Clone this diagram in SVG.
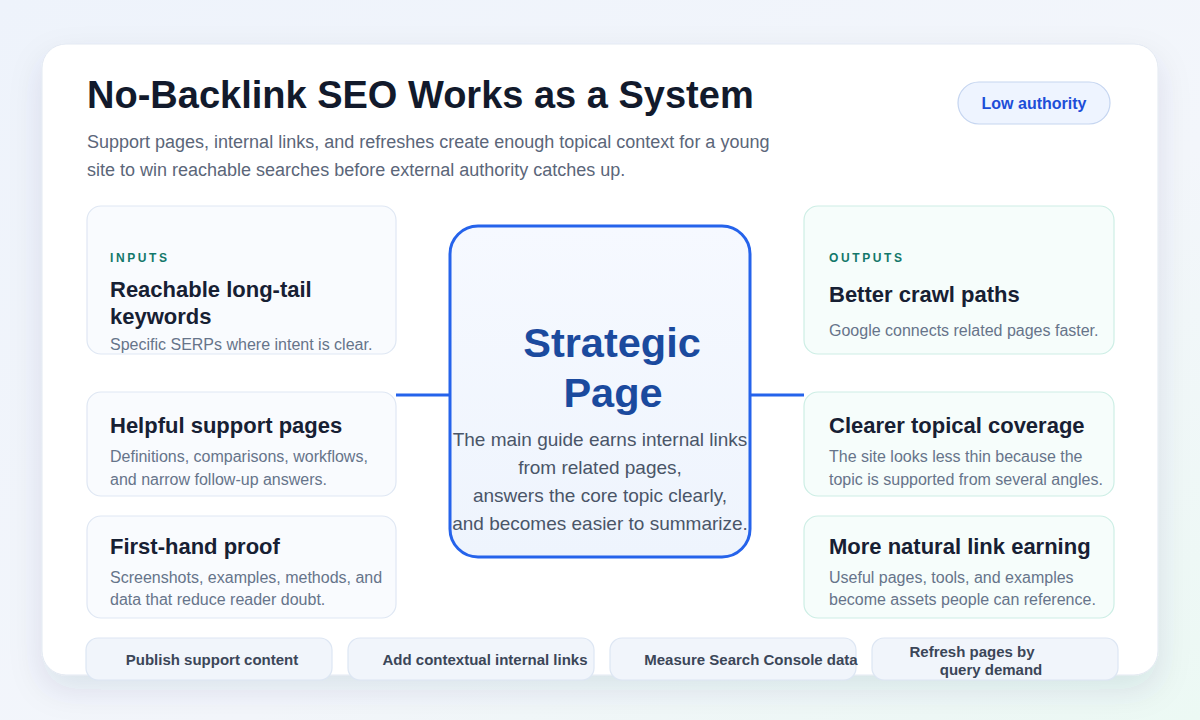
<svg xmlns="http://www.w3.org/2000/svg" width="1200" height="720" viewBox="0 0 1200 720">
<defs>
<linearGradient id="bg" x1="0" y1="0" x2="1" y2="1">
<stop offset="0" stop-color="#eef3fb"/>
<stop offset="0.6" stop-color="#f3f6fb"/>
<stop offset="1" stop-color="#ecf9f4"/>
</linearGradient>
<linearGradient id="center" x1="0" y1="0" x2="0" y2="1">
<stop offset="0" stop-color="#f6f9ff"/>
<stop offset="1" stop-color="#eef4fd"/>
</linearGradient>
<filter id="shadow" x="-10%" y="-10%" width="120%" height="130%">
<feDropShadow dx="0" dy="14" stdDeviation="16" flood-color="#1e3a5f" flood-opacity="0.10"/>
</filter>
<style>
.title{font-family:"Liberation Sans",Arial,sans-serif;font-weight:700;font-size:38px;fill:#121a2c}
.sub{font-family:"Liberation Sans",Arial,sans-serif;font-size:18px;fill:#5b6679}
.pill{fill:#eef4ff;stroke:#c5d5f0;stroke-width:1.2}
.pilltext{font-family:"Liberation Sans",Arial,sans-serif;font-weight:700;font-size:16px;fill:#1d4ed8}
.lcard{fill:#f9fbfe;stroke:#dfe7f3;stroke-width:1.2}
.rcard{fill:#f6fdfb;stroke:#cdeee5;stroke-width:1.2}
.kicker{font-family:"Liberation Sans",Arial,sans-serif;font-weight:700;font-size:12px;letter-spacing:2.6px;fill:#13786a}
.ctitle{font-family:"Liberation Sans",Arial,sans-serif;font-weight:700;font-size:22px;fill:#172033}
.cdesc{font-family:"Liberation Sans",Arial,sans-serif;font-size:16px;fill:#66748a}
.hub{fill:url(#center);stroke:#2563eb;stroke-width:3}
.hubtitle{font-family:"Liberation Sans",Arial,sans-serif;font-weight:700;font-size:41.5px;fill:#1b4a9e}
.hubdesc{font-family:"Liberation Sans",Arial,sans-serif;font-size:19px;fill:#4a5568}
.conn{stroke:#2563eb;stroke-width:3;fill:none}
.step{fill:#f1f5fb;stroke:#dde6f3;stroke-width:1.2}
.steptext{font-family:"Liberation Sans",Arial,sans-serif;font-weight:700;font-size:15px;fill:#3b4658}
</style>
</defs>
<rect width="1200" height="720" fill="url(#bg)"/>
<rect x="42" y="44" width="1116" height="631" rx="24" fill="#ffffff" stroke="#e3e9f2" stroke-width="1" filter="url(#shadow)"/>

<g id="header">
<text class="title" x="87" y="108">No-Backlink SEO Works as a System</text>
<text class="sub" x="87" y="148">Support pages, internal links, and refreshes create enough topical context for a young</text>
<text class="sub" x="87" y="176">site to win reachable searches before external authority catches up.</text>
</g>

<g id="badge-low-authority">
<rect class="pill" x="958" y="82" width="152" height="42" rx="21"/>
<text class="pilltext" x="1034" y="109" text-anchor="middle">Low authority</text>
</g>

<g id="connectors">
<line class="conn" x1="396" y1="395" x2="451" y2="395"/>
<line class="conn" x1="749" y1="395" x2="804" y2="395"/>
</g>

<g id="input-keywords">
<rect class="lcard" x="87" y="206" width="309" height="148" rx="14"/>
<text class="kicker" x="110" y="262">INPUTS</text>
<text class="ctitle" x="110" y="297">Reachable long-tail</text>
<text class="ctitle" x="110" y="324">keywords</text>
<text class="cdesc" x="110" y="350">Specific SERPs where intent is clear.</text>
</g>

<g id="input-support-pages">
<rect class="lcard" x="87" y="392" width="309" height="104" rx="14"/>
<text class="ctitle" x="110" y="433">Helpful support pages</text>
<text class="cdesc" x="110" y="462">Definitions, comparisons, workflows,</text>
<text class="cdesc" x="110" y="485">and narrow follow-up answers.</text>
</g>

<g id="input-proof">
<rect class="lcard" x="87" y="516" width="309" height="102" rx="14"/>
<text class="ctitle" x="110" y="554">First-hand proof</text>
<text class="cdesc" x="110" y="583">Screenshots, examples, methods, and</text>
<text class="cdesc" x="110" y="605">data that reduce reader doubt.</text>
</g>

<g id="strategic-page">
<rect class="hub" x="450" y="226" width="300" height="331" rx="28"/>
<text class="hubtitle" x="612" y="357" text-anchor="middle">Strategic</text>
<text class="hubtitle" x="613" y="407" text-anchor="middle">Page</text>
<text class="hubdesc" x="600" y="446" text-anchor="middle">The main guide earns internal links</text>
<text class="hubdesc" x="600" y="474" text-anchor="middle">from related pages,</text>
<text class="hubdesc" x="600" y="502" text-anchor="middle">answers the core topic clearly,</text>
<text class="hubdesc" x="600" y="530" text-anchor="middle">and becomes easier to summarize.</text>
</g>

<g id="output-crawl">
<rect class="rcard" x="804" y="206" width="310" height="148" rx="14"/>
<text class="kicker" x="829" y="262">OUTPUTS</text>
<text class="ctitle" x="829" y="302">Better crawl paths</text>
<text class="cdesc" x="829" y="336">Google connects related pages faster.</text>
</g>

<g id="output-coverage">
<rect class="rcard" x="804" y="392" width="310" height="104" rx="14"/>
<text class="ctitle" x="829" y="433">Clearer topical coverage</text>
<text class="cdesc" x="829" y="462">The site looks less thin because the</text>
<text class="cdesc" x="829" y="485">topic is supported from several angles.</text>
</g>

<g id="output-links">
<rect class="rcard" x="804" y="516" width="310" height="102" rx="14"/>
<text class="ctitle" x="829" y="554">More natural link earning</text>
<text class="cdesc" x="829" y="583">Useful pages, tools, and examples</text>
<text class="cdesc" x="829" y="605">become assets people can reference.</text>
</g>

<g id="step-publish">
<rect class="step" x="86" y="638" width="246" height="42" rx="12"/>
<text class="steptext" x="212" y="665" text-anchor="middle">Publish support content</text>
</g>
<g id="step-links">
<rect class="step" x="348" y="638" width="246" height="42" rx="12"/>
<text class="steptext" x="485" y="665" text-anchor="middle">Add contextual internal links</text>
</g>
<g id="step-measure">
<rect class="step" x="610" y="638" width="246" height="42" rx="12"/>
<text class="steptext" x="751" y="665" text-anchor="middle">Measure Search Console data</text>
</g>
<g id="step-refresh">
<rect class="step" x="872" y="638" width="246" height="42" rx="12"/>
<text class="steptext" x="972" y="657" text-anchor="middle">Refresh pages by</text>
<text class="steptext" x="991" y="675" text-anchor="middle">query demand</text>
</g>
</svg>
